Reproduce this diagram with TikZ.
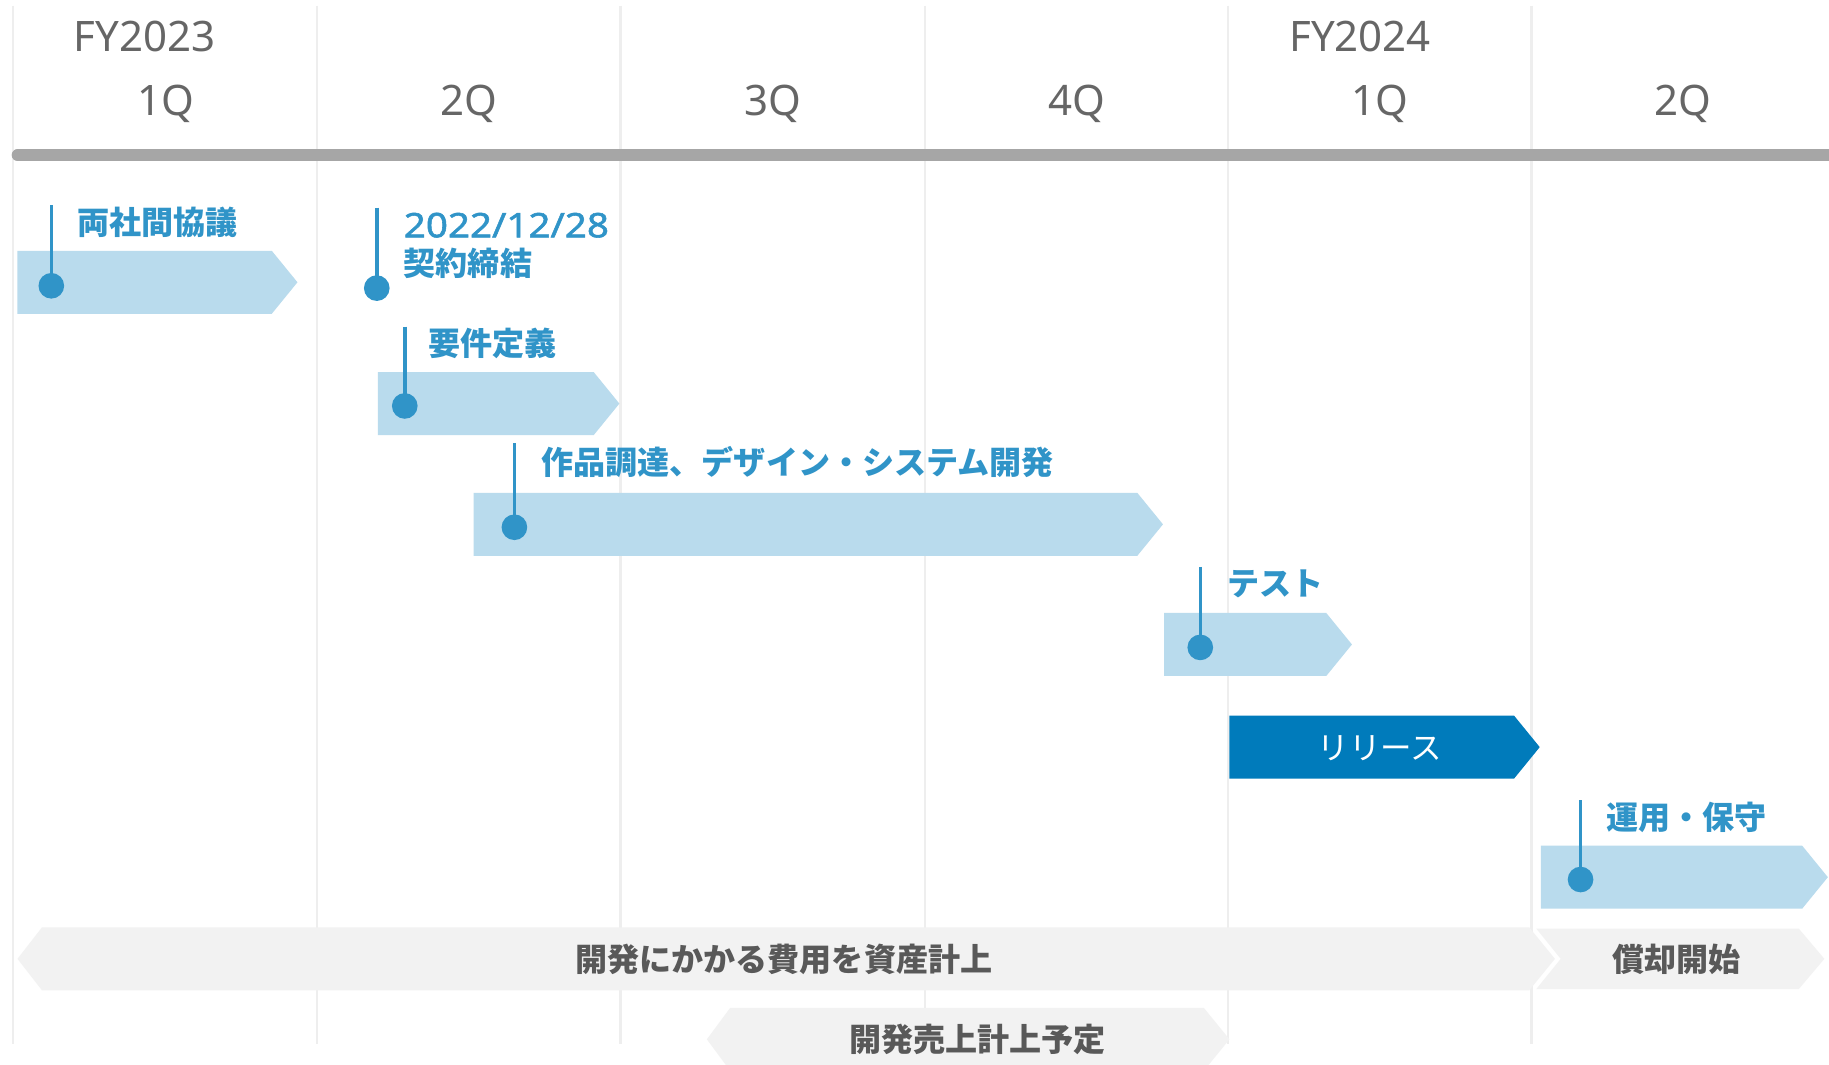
\documentclass[tikz,border=0pt]{standalone}
\usepackage{fontspec}
\setmainfont{Noto Sans CJK JP}
\newfontfamily\latf{Noto Sans}
\newfontfamily\datef{Noto Sans}[FakeStretch=1.14,FakeBold=1.6]
\definecolor{gridc}{HTML}{EEEEEE}
\definecolor{headc}{HTML}{666666}
\definecolor{linec}{HTML}{A6A6A6}
\definecolor{lightb}{HTML}{B9DBED}
\definecolor{pinc}{HTML}{3094C8}
\definecolor{relc}{HTML}{007BBB}
\definecolor{grayb}{HTML}{F2F2F2}
\definecolor{graytxt}{HTML}{595959}
\newcommand\chevbar[5]{% style, x1, x2, yc, name
  \fill[#1] (#2,#4-27) -- (#3,#4-27) -- (#3+22,#4) -- (#3,#4+27) -- (#2,#4+27) -- cycle;
  \coordinate (#5) at ({(#2+#3)/2},#4);}
\newcommand\pinmark[4]{% name, x, ytop, ydot
  \coordinate (#1t) at (#2,#3);
  \coordinate (#1d) at (#2,#4);
  \draw[pinline] (#1t) -- (#1d);
  \fill[pinc] (#1d) circle (11pt);}
\begin{document}
\begin{tikzpicture}[x=1pt,y=-1pt,
  grid/.style={draw=gridc,line width=2pt},
  head/.style={anchor=base,inner sep=0pt,text=headc,font=\latf\fontsize{36}{40}\selectfont},
  lbl/.style={anchor=base west,inner sep=0pt,text=pinc,font=\fontsize{27.5}{30}\selectfont\bfseries},
  gtxt/.style={anchor=base,inner sep=0pt,text=graytxt,font=\fontsize{27.5}{30}\selectfont\bfseries},
  pinline/.style={draw=pinc,line width=3pt},
  lb/.style={fill=lightb},
  gb/.style={fill=grayb}]
\useasboundingbox (0,0) rectangle (1568,913);
\fill[white] (0,0) rectangle (1568,913);
% grid
\foreach \gx [count=\i] in {11,272,532,793,1053,1313}{
  \coordinate (g\i t) at (\gx,5);
  \coordinate (g\i b) at (\gx,895);
  \draw[grid] (g\i t) -- (g\i b);
}
% header
\node[head] (fy23) at (124,44.3) {FY2023};
\node[head] (fy24) at (1166,44.3) {FY2024};
\node[head] (q1) at (142,98.6) {1Q};
\node[head] (q2) at (402,98.6) {2Q};
\node[head] (q3) at (663,98.6) {3Q};
\node[head] (q4) at (923,98.6) {4Q};
\node[head] (q5) at (1183,98.6) {1Q};
\node[head] (q6) at (1443,98.6) {2Q};
% timeline bar
\coordinate (tl0) at (15,133);
\coordinate (tl1) at (1575,133);
\draw[draw=linec,line width=10pt,line cap=round] (tl0) -- (tl1);
% light bars
\chevbar{lb}{15}{233}{242}{b1}
\chevbar{lb}{324}{509}{346}{b3}
\chevbar{lb}{406}{975}{449.5}{b4}
\chevbar{lb}{998}{1137}{552.5}{b5}
\chevbar{fill=relc}{1054}{1298}{640.5}{b6}
\chevbar{lb}{1321}{1545}{752}{b7}
% pins
\pinmark{p1}{44}{176}{245}
\pinmark{p2}{323}{178}{247}
\pinmark{p3}{347}{280}{348}
\pinmark{p4}{441}{380}{452}
\pinmark{p5}{1029}{486}{555}
\pinmark{p7}{1355}{686}{754}
% labels
\node[lbl] (l1) at (66,201) {両社間協議};
\node[lbl,font=\datef\fontsize{29}{32}\selectfont] (l2a) at (346,203.4) {2022/12/28};
\node[lbl] (l2b) at (346,236) {契約締結};
\node[lbl] (l3) at (367,304.5) {要件定義};
\node[lbl] (l4) at (464,406.5) {作品調達、デザイン・システム開発};
\node[lbl] (l5) at (1052,510.5) {テスト};
\node[gtxt,text=white,font=\fontsize{27}{30}\selectfont] (l6) at (1183,651) {リリース};
\node[lbl] (l7) at (1377,711.5) {運用・保守};
% gray bars
\fill[gb] (15,822) -- (36,795) -- (1311,795) -- (1333,822) -- (1311,849) -- (36,849) -- cycle;
\fill[gb] (1317,796) -- (1542,796) -- (1564,822) -- (1542,848) -- (1317,848) -- (1338,822) -- cycle;
\fill[gb] (606,891) -- (626,864) -- (1032,864) -- (1054,891) -- (1032,918) -- (626,918) -- cycle;
\node[gtxt] (g1) at (672,832.5) {開発にかかる費用を資産計上};
\node[gtxt] (g2) at (1437,832.5) {償却開始};
\node[gtxt] (g3) at (838,901.5) {開発売上計上予定};
\end{tikzpicture}
\end{document}
